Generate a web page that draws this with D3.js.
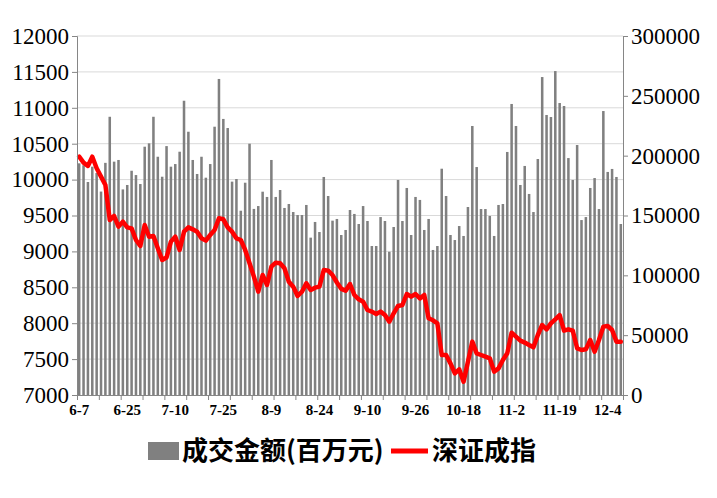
<!DOCTYPE html>
<html>
<head>
<meta charset="utf-8">
<script src="https://cdn.jsdelivr.net/npm/d3@7"></script>
<style>
  body { margin: 0; background: #fff; }
  .num text { font-family: "Liberation Serif", "Times New Roman", serif; }
</style>
</head>
<body>
<div id="chart"></div>
<script>
// trading days shown on the category axis
const dates = [
  "6-7","6-8","6-11","6-12","6-13","6-14","6-15","6-19","6-20","6-21","6-22","6-25","6-26","6-27","6-28","6-29",
  "7-2","7-3","7-4","7-5","7-6","7-9","7-10","7-11","7-12","7-13","7-16","7-17","7-18","7-19","7-20","7-23","7-24","7-25","7-26","7-27","7-30","7-31",
  "8-1","8-2","8-3","8-6","8-7","8-8","8-9","8-10","8-13","8-14","8-15","8-16","8-17","8-20","8-21","8-22","8-23","8-24","8-27","8-28","8-29","8-30","8-31",
  "9-3","9-4","9-5","9-6","9-7","9-10","9-11","9-12","9-13","9-14","9-17","9-18","9-19","9-20","9-21","9-25","9-26","9-27","9-28",
  "10-8","10-9","10-10","10-11","10-12","10-15","10-16","10-17","10-18","10-19","10-22","10-23","10-24","10-25","10-26","10-29","10-30","10-31",
  "11-1","11-2","11-5","11-6","11-7","11-8","11-9","11-12","11-13","11-14","11-15","11-16","11-19","11-20","11-21","11-22","11-23","11-26","11-27","11-28","11-29","11-30",
  "12-3","12-4","12-5","12-6","12-7"
];

// 成交金额 (百万元), right axis
const turnover = [
  193600,192000,178000,190800,185500,170000,194000,232500,195000,196400,
  171800,175500,187400,183800,176300,207500,210300,232500,199100,182400,
  208000,190800,193000,203300,245900,220000,196400,184700,199100,181600,
  193000,224200,264100,230700,223100,178300,180500,154000,177400,210000,
  155500,157900,169900,165500,196400,165500,171300,156300,159600,152900,
  150400,150400,158800,131500,144600,136200,182200,166300,145700,147100,
  133700,137900,154600,151300,142900,157900,145400,124500,124500,148700,
  145400,119700,140400,179700,145400,173000,133700,165500,163000,137900,
  147100,121200,124500,189100,166300,133700,129500,141200,132900,157100,
  224800,190500,155400,155400,149600,132900,158800,159600,203100,243200,
  224800,175500,191400,168000,152900,197200,265700,234000,232300,270700,
  244000,241500,198000,179700,208900,146200,148700,173000,181300,155400,
  237300,186400,188900,182200,142900
];

// 深证成指, left axis
const szIndex = [
  10319,10236,10190,10319,10157,10041,9925,9437,9493,9345,
  9414,9335,9321,9159,9075,9368,9205,9215,9043,8880,
  8915,9136,9205,9020,9275,9335,9307,9275,9182,9150,
  9229,9298,9461,9447,9335,9275,9182,9159,9020,8834,
  8648,8439,8671,8532,8787,8843,8834,8764,8578,8509,
  8379,8439,8555,8462,8495,8509,8741,8732,8671,8567,
  8479,8453,8546,8393,8333,8300,8184,8161,8128,8161,
  8114,8021,8138,8240,8254,8407,8370,8407,8346,8393,
  8068,8040,7998,7557,7557,7441,7302,7357,7186,7464,
  7743,7580,7557,7534,7511,7325,7371,7487,7580,7868,
  7813,7757,7730,7696,7664,7836,7975,7915,7998,8054,
  8114,7896,7915,7896,7650,7627,7636,7766,7603,7766,
  7952,7961,7905,7743,7743
];

const tickLabels = ["6-7","6-25","7-10","7-25","8-9","8-24","9-10","9-26","10-18","11-2","11-19","12-4"];
const leftTicks = [7000,7500,8000,8500,9000,9500,10000,10500,11000,11500,12000];
const rightTicks = [0,50000,100000,150000,200000,250000,300000];
const legendNames = ["成交金额(百万元)", "深证成指"];

const W = 717, H = 498;
const margin = {top: 36, right: 94, bottom: 103, left: 77};
const width = W - margin.left - margin.right,
      height = H - margin.top - margin.bottom;

const svg = d3.select("#chart").append("svg")
  .attr("width", W).attr("height", H);

const g = svg.append("g")
  .attr("transform", `translate(${margin.left},${margin.top})`);

// scales
const x = d3.scaleBand().domain(dates).range([0, width])
  .paddingInner(0.42).paddingOuter(0.21);
const xIdx = d3.scaleLinear().domain([0, dates.length]).range([0, width]);
const yL = d3.scaleLinear().domain([7000, 12000]).range([height, 0]);
const yR = d3.scaleLinear().domain([0, 300000]).range([height, 0]);

// horizontal gridlines on the left axis ticks
g.append("g")
  .selectAll("line")
  .data(leftTicks.slice(1))
  .join("line")
  .attr("x1", 0).attr("x2", width)
  .attr("y1", d => yL(d)).attr("y2", d => yL(d))
  .attr("stroke", "#d9d9d9").attr("stroke-width", 1);

// turnover bars
g.append("g")
  .selectAll("rect")
  .data(turnover)
  .join("rect")
  .attr("x", (d, i) => x(dates[i]))
  .attr("width", x.bandwidth())
  .attr("y", d => yR(d))
  .attr("height", d => height - yR(d))
  .attr("fill", "#808080");

// index line
g.append("path")
  .datum(szIndex)
  .attr("fill", "none")
  .attr("stroke", "#ff0000")
  .attr("stroke-width", 4.5)
  .attr("stroke-linejoin", "round")
  .attr("stroke-linecap", "round")
  .attr("d", d3.line()
    .x((d, i) => x(dates[i]) + x.bandwidth() / 2)
    .y(d => yL(d)));

// left axis
const axL = g.append("g").attr("class", "num")
  .call(d3.axisLeft(yL).tickValues(leftTicks).tickSize(5).tickPadding(3)
    .tickFormat(d3.format("d")));
axL.selectAll("text").attr("font-size", 23).attr("fill", "#000");

// right axis
const axR = g.append("g").attr("class", "num")
  .attr("transform", `translate(${width},0)`)
  .call(d3.axisRight(yR).tickValues(rightTicks).tickSize(5).tickPadding(3)
    .tickFormat(d3.format("d")));
axR.selectAll("text").attr("font-size", 23).attr("fill", "#000");

// bottom tick marks every 5 days
const axTicks = g.append("g")
  .attr("transform", `translate(0,${height})`)
  .call(d3.axisBottom(xIdx).tickValues(d3.range(0, dates.length + 1, 5))
    .tickSize(5).tickFormat(""));

// bottom labels
const axB = g.append("g").attr("class", "num")
  .attr("transform", `translate(0,${height})`)
  .call(d3.axisBottom(x).tickValues(tickLabels).tickSize(0).tickPadding(9));
axB.select(".domain").remove();
axB.selectAll("text").attr("font-size", 15).attr("font-weight", "bold").attr("fill", "#000");

[axL, axR, axTicks].forEach(a => {
  a.selectAll(".domain, line").attr("stroke", "#868686");
});

// legend
const leg = svg.append("g")
  .style("font-family", "'Noto Sans CJK SC', sans-serif")
  .attr("font-size", 26).attr("font-weight", "bold");
leg.append("rect")
  .attr("x", 148).attr("y", 442).attr("width", 31).attr("height", 18)
  .attr("fill", "#808080");
leg.append("text").attr("x", 182).attr("y", 460).text(legendNames[0]);
leg.append("line")
  .attr("x1", 391).attr("x2", 428).attr("y1", 451).attr("y2", 451)
  .attr("stroke", "#ff0000").attr("stroke-width", 5);
leg.append("text").attr("x", 432).attr("y", 460).text(legendNames[1]);
</script>
</body>
</html>
